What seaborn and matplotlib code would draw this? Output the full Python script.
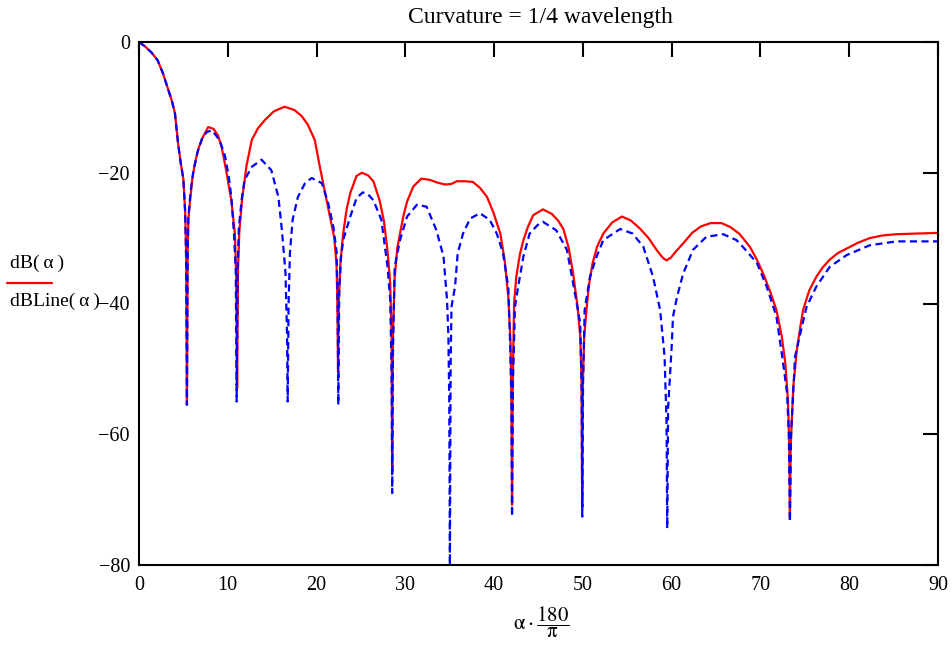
import pandas as pd
import matplotlib
matplotlib.use("Agg")
import matplotlib.pyplot as plt
import seaborn as sns
from matplotlib.lines import Line2D

# Kiirgusdiagramm: dB(alpha) ja dBLine(alpha), nurk kraadides
title = "Curvature = 1/4 wavelength"
x_ticks = [0, 10, 20, 30, 40, 50, 60, 70, 80, 90]
y_ticks = [-80, -60, -40, -20, 0]

# dB(alpha) - punane pidev joon
red_x = [0, 0.7, 1.4, 2.1, 2.7, 3.3, 3.7, 4.05, 4.4, 4.7,
         5.0, 5.2, 5.32, 5.4, 5.48, 5.57, 5.7, 6.0, 6.3, 6.7,
         7.1, 7.8, 8.4, 8.9, 9.3, 9.8, 10.4, 10.8, 10.95, 11.05,
         11.15, 11.3, 11.6, 12.1, 12.7, 13.4, 14.2, 15.2, 16.4, 17.5,
         18.3, 19.0, 19.8, 20.4, 21.0, 21.6, 22.0, 22.25, 22.35, 22.42,
         22.5, 22.7, 23.0, 23.4, 23.8, 24.5, 25.1, 25.8, 26.4, 27.1,
         27.6, 28.0, 28.3, 28.45, 28.52, 28.6, 28.8, 29.1, 29.4, 29.8,
         30.2, 30.9, 31.8, 32.8, 33.6, 34.5, 35.2, 35.8, 36.7, 37.6,
         38.4, 39.2, 39.9, 40.7, 41.2, 41.6, 41.85, 41.95, 42.02, 42.1,
         42.25, 42.5, 42.9, 43.3, 43.8, 44.4, 45.5, 46.5, 47.2, 47.8,
         48.4, 48.9, 49.4, 49.7, 49.85, 49.92, 50.0, 50.15, 50.4, 50.7,
         51.1, 51.6, 52.3, 53.3, 54.4, 55.4, 56.4, 57.4, 58.3, 59.0,
         59.4, 59.9, 60.5, 61.3, 62.3, 63.3, 64.4, 65.6, 66.6, 67.6,
         68.8, 69.6, 70.3, 71.1, 71.8, 72.4, 72.8, 73.1, 73.25, 73.32,
         73.4, 73.7, 74.1, 74.5, 74.8, 75.5, 76.3, 77.0, 77.8, 78.7,
         79.7, 81.0, 82.3, 83.7, 85.3, 87.5, 90.0]
red_db = [0, -0.7, -1.6, -2.8, -4.8, -7.3, -9.0, -10.9, -15.5, -18.5,
          -21, -26, -33, -55.5, -32, -27, -25, -21, -18.5, -16.3,
          -14.8, -13.0, -13.3, -14.3, -16, -19.5, -24.2, -29.3, -36, -53,
          -35, -29, -24.2, -19, -15, -13.2, -11.9, -10.6, -9.9, -10.4,
          -11.3, -12.6, -15, -19.3, -23.3, -27.3, -30, -34, -40, -50.5,
          -40, -33.5, -29.3, -25.5, -23.1, -20.5, -20.0, -20.4, -21.3, -24.2,
          -27.5, -32, -37, -45, -66, -45, -36, -31.5, -29.3, -26.5,
          -24.4, -22.1, -20.9, -21.1, -21.5, -21.8, -21.7, -21.3, -21.3, -21.4,
          -22.3, -23.7, -26, -29.3, -33.5, -39, -46, -55, -70.8, -52,
          -40, -35.9, -32.5, -30.3, -28.3, -26.5, -25.6, -26.3, -27.3, -28.6,
          -31.5, -35.4, -40.5, -45, -52, -71.2, -52, -45, -41, -37,
          -33.8, -31.3, -29.3, -27.6, -26.7, -27.3, -28.5, -30.0, -31.8, -33.0,
          -33.4, -33.0, -32.0, -30.8, -29.2, -28.2, -27.7, -27.7, -28.3, -29.3,
          -31.3, -33.3, -35.4, -38.2, -41, -45, -49.1, -54.8, -62, -72.6,
          -62, -52.7, -47.1, -43.5, -41, -38, -35.9, -34.5, -33.3, -32.3,
          -31.6, -30.7, -30.0, -29.6, -29.4, -29.3, -29.2]

# dBLine(alpha) - sinine katkendjoon
blue_x = [0, 0.7, 1.4, 2.1, 2.7, 3.3, 3.7, 4.05, 4.4, 4.7,
          5.0, 5.2, 5.32, 5.4, 5.48, 5.55, 5.8, 6.1, 6.6, 7.1,
          7.6, 8.2, 8.8, 9.2, 9.7, 10.1, 10.4, 10.7, 10.9, 11.0,
          11.1, 11.25, 11.6, 11.9, 12.7, 13.8, 14.9, 15.7, 16.1, 16.5,
          16.68, 16.75, 16.85, 17.0, 17.3, 17.9, 18.7, 19.45, 20.6, 21.3,
          21.9, 22.25, 22.38, 22.45, 22.55, 22.75, 23.0, 23.8, 24.5, 25.2,
          25.8, 26.4, 27.3, 28.0, 28.3, 28.45, 28.52, 28.6, 28.8, 29.4,
          30.2, 31.3, 32.4, 33.5, 34.3, 34.7, 34.85, 34.95, 35.02, 35.1,
          35.2, 35.6, 35.9, 36.5, 37.3, 38.4, 39.5, 40.3, 41.0, 41.6,
          41.8, 41.95, 42.02, 42.12, 42.35, 42.7, 43.3, 44.0, 44.9, 45.5,
          47.0, 48.2, 48.9, 49.7, 49.85, 49.93, 50.02, 50.2, 50.8, 51.55,
          52.3, 54.2, 55.6, 56.8, 57.9, 58.7, 59.2, 59.42, 59.5, 59.6,
          60.0, 60.15, 60.6, 61.3, 62.4, 63.9, 65.8, 67.3, 68.0, 69.6,
          70.7, 71.8, 72.5, 73.0, 73.2, 73.32, 73.45, 73.9, 74.5, 75.2,
          76.3, 77.8, 79.7, 82.3, 85.3, 87.5, 90.0]
blue_db = [0, -0.7, -1.6, -2.8, -4.8, -7.3, -9.0, -10.9, -15.5, -18.5,
           -21, -26, -34, -55.5, -33, -27, -23, -20, -16.8, -14.8,
           -13.8, -13.5, -14.5, -15.5, -17.5, -20.5, -23.7, -29.3, -35, -55,
           -35, -28.3, -23.7, -21.1, -19.1, -18.0, -19.6, -23.7, -28.8, -35.3,
           -45, -55, -40, -32.3, -27.2, -23.7, -21.6, -20.8, -21.6, -24.6,
           -28.3, -32, -40, -55.5, -38, -33, -30.3, -26.7, -23.9, -23.0,
           -23.3, -24.2, -27.2, -34.4, -39.5, -50, -69, -48, -34.4, -30.3,
           -26.7, -24.9, -25.2, -28.8, -32.8, -39.5, -45, -55, -80, -50,
           -40.5, -37.4, -32.3, -29.3, -27.0, -26.2, -27.2, -29.3, -32.3, -37.5,
           -46, -55, -72.6, -52, -40.5, -37.5, -32.8, -29.3, -28.0, -27.5,
           -28.8, -31.8, -36.9, -43, -52, -72.6, -52, -41, -35.9, -32.8,
           -30.3, -28.6, -29.3, -31.3, -35.9, -41, -48.1, -58, -74.4, -56,
           -46.6, -42, -39, -35.4, -31.8, -29.8, -29.4, -30.3, -31.3, -33.8,
           -37.4, -42, -48.6, -53.7, -60, -73.4, -60, -48.1, -44.5, -40.5,
           -37.4, -34.4, -32.6, -31.1, -30.5, -30.5, -30.5]

red_df = pd.DataFrame({"angle": red_x, "level": red_db})
blue_df = pd.DataFrame({"angle": blue_x, "level": blue_db})

sns.set_style("white")
plt.rcParams["font.family"] = ["Liberation Serif", "DejaVu Serif"]
plt.rcParams["mathtext.fontset"] = "stix"
plt.rcParams["text.color"] = "black"

W, H = 952, 648
fig = plt.figure(figsize=(W / 100, H / 100), dpi=100)
ax = fig.add_axes([139 / W, 1 - 565 / H, (938 - 139) / W, (565 - 42) / H])

sns.lineplot(data=red_df, x="angle", y="level", ax=ax, color="#ff0000",
             lw=1.6, estimator=None, sort=False)
sns.lineplot(data=blue_df, x="angle", y="level", ax=ax, color="#0000ff",
             lw=1.6, estimator=None, sort=False, linestyle=(0, (3.2, 2.0)))

ax.set_xlim(0, 90)
ax.set_ylim(-80, 0)
ax.set_xticks(x_ticks)
ax.set_yticks(y_ticks)
ax.set_xlabel("")
ax.set_ylabel("")
ax.tick_params(direction="in", length=11, width=1.5, top=True, right=True,
               labelsize=14.5, colors="black", labelcolor="black")
ax.tick_params(axis="x", pad=8)
ax.tick_params(axis="y", pad=6.5)
for s in ax.spines.values():
    s.set_linewidth(1.5)
    s.set_color("black")

# Pealkiri ja teljetekstid nagu Mathcadis
fig.text(540 / W, 1 - 18 / H, title, ha="center", va="center", fontsize=17)
fig.text(10 / W, 1 - 263 / H, "dB(\u2009α\u2009)", ha="left", va="center", fontsize=14)
fig.text(10 / W, 1 - 301 / H, "dBLine(\u2009α\u2009)", ha="left", va="center", fontsize=14)
fig.add_artist(Line2D([7 / W, 52 / W], [1 - 283 / H, 1 - 283 / H],
                      transform=fig.transFigure, color="#ff0000", lw=1.6))
fig.text(541 / W, 1 - 622 / H, r"$\mathrm{α}\cdot\dfrac{180}{\mathrm{π}}$",
         ha="center", va="center", fontsize=15)

fig.savefig("out.png", dpi=100)
